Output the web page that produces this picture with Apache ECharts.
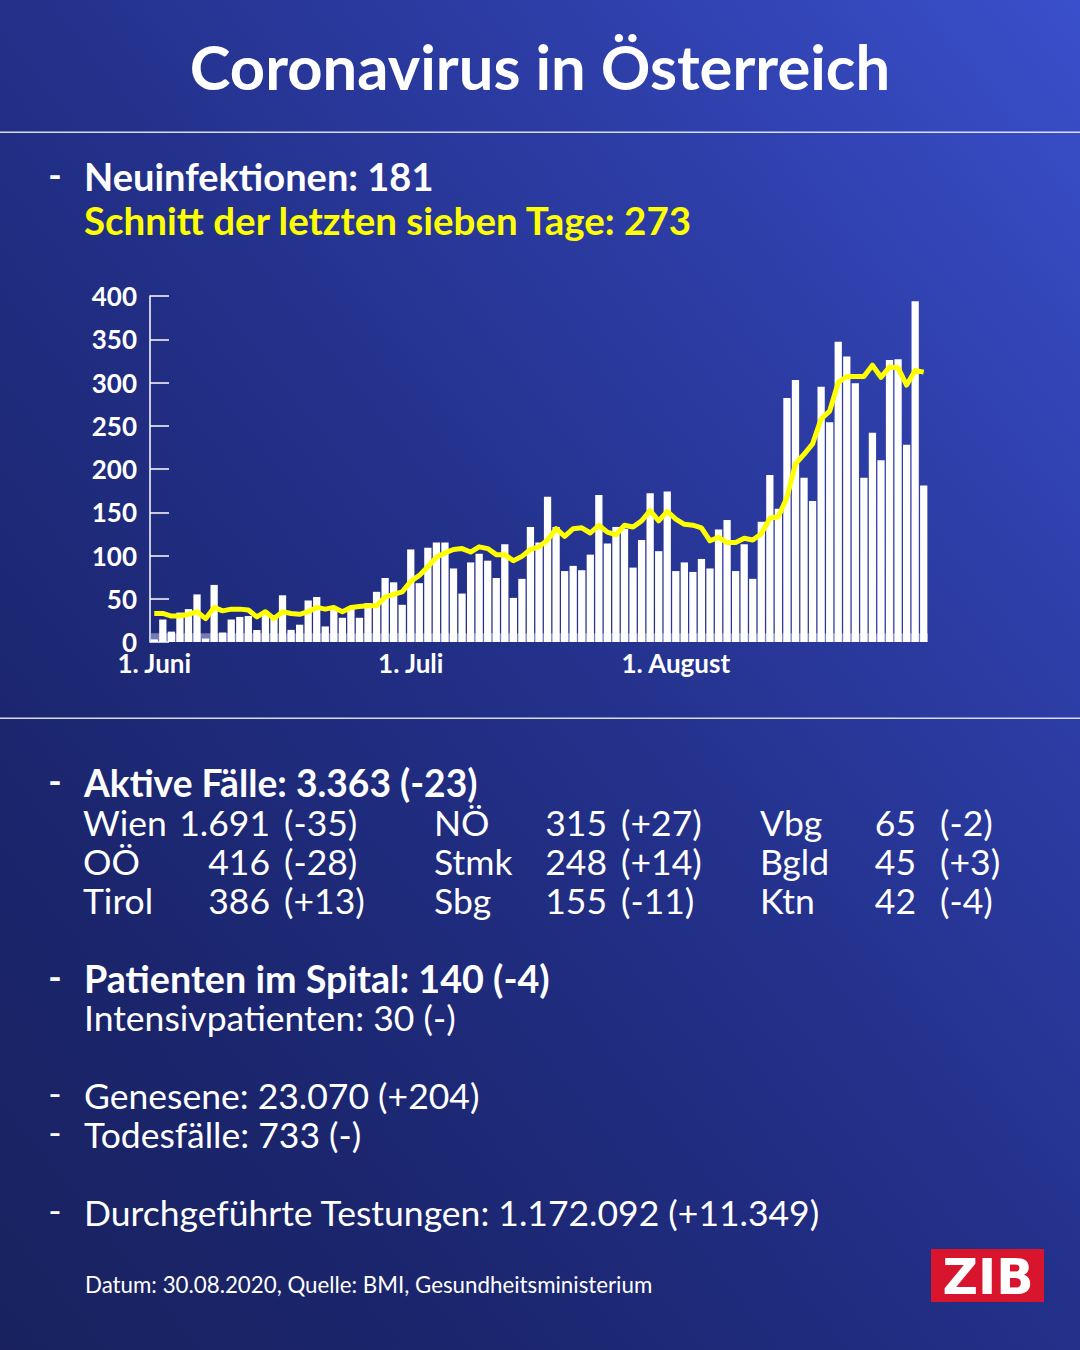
<!DOCTYPE html>
<html>
<head>
<meta charset="utf-8">
<script src="https://cdn.jsdelivr.net/npm/echarts@6/dist/echarts.min.js"></script>
<style>
html,body{margin:0;padding:0;}
body{width:1080px;height:1350px;overflow:hidden;
background:linear-gradient(to left bottom,#3a4fcb 0%,#2c3ca4 28%,#212e84 55%,#1b256c 80%,#19225f 100%);}
#chart{width:1080px;height:1350px;}
</style>
</head>
<body>
<div id="chart"></div>
<script>
// Daily new infections, 1 June – 30 August 2020
const newCases = [3,26,12,34,38,55,4,66,11,26,29,30,14,32,27,54,14,20,48,52,18,38,28,38,28,45,58,74,69,43,
  107,68,109,115,115,85,56,92,102,94,74,113,51,73,133,115,168,133,82,88,83,101,170,114,133,131,86,118,172,105,174,
  82,92,81,96,85,130,141,82,113,73,139,193,154,282,303,190,163,295,254,347,330,299,190,242,210,326,327,228,394,181];
// 7-day average (yellow line)
const sevenDayAvg = [33,33,30,30,32,35,27,40,36,38,38,37,29,35,27,35,33,32,35,40,38,40,35,40,41,42,42,52,55,58,
  70,77,87,98,103,107,108,104,110,108,101,101,94,99,107,110,118,131,122,131,132,126,135,127,124,135,133,140,152,140,151,
  142,136,135,132,117,121,115,115,120,118,125,143,145,167,206,217,229,258,267,300,307,307,307,320,306,318,317,297,314,312];
// category labels: days from 1 June to 30 August
const days = [];
(function(){const d=new Date(Date.UTC(2020,5,1));for(let i=0;i<newCases.length;i++){const c=new Date(d.getTime()+i*86400000);days.push(c.getUTCDate()+'.'+(c.getUTCMonth()+1)+'.');}})();
const monthTicks = {'1.6.':'1. Juni','1.7.':'1. Juli','1.8.':'1. August'};
const yTicks = [0,50,100,150,200,250,300,350,400];

const FONT = 'Lato';
function txt(text,x,y,size,weight,color,align){
  return {type:'text',x:x,y:y,z:100,style:{text:text,fill:color||'#fff',
    font:(weight||'normal')+' '+size+'px '+FONT,textAlign:align||'left',textVerticalAlign:'middle'}};
}
const W='#ffffff', Y='#ffff00';
const R=35.5; // regular size
const graphics = [
  txt('Coronavirus in Österreich',540,66,61.5,'bold',W,'center'),
  {type:'rect',shape:{x:0,y:131.5,width:1080,height:1.5},style:{fill:'rgba(235,238,250,0.9)'}},
  {type:'rect',shape:{x:0,y:717.5,width:1080,height:1.5},style:{fill:'rgba(235,238,250,0.9)'}},
  txt('-',55,174,36,'bold',W,'center'),
  txt('Neuinfektionen: 181',84,176,38,'bold',W),
  txt('Schnitt der letzten sieben Tage: 273',84,220,38.5,'bold',Y),
  txt('-',55,780,36,'bold',W,'center'),
  txt('Aktive Fälle: 3.363 (-23)',84,782,37.2,'bold',W),
  txt('Wien',83,822,R,'normal',W), txt('1.691',270,822,R,'normal',W,'right'), txt('(-35)',284,822,R,'normal',W),
  txt('OÖ',83,861,R,'normal',W), txt('416',270,861,R,'normal',W,'right'), txt('(-28)',284,861,R,'normal',W),
  txt('Tirol',83,900,R,'normal',W), txt('386',270,900,R,'normal',W,'right'), txt('(+13)',284,900,R,'normal',W),
  txt('NÖ',434,822,R,'normal',W), txt('315',607,822,R,'normal',W,'right'), txt('(+27)',621,822,R,'normal',W),
  txt('Stmk',434,861,R,'normal',W), txt('248',607,861,R,'normal',W,'right'), txt('(+14)',621,861,R,'normal',W),
  txt('Sbg',434,900,R,'normal',W), txt('155',607,900,R,'normal',W,'right'), txt('(-11)',621,900,R,'normal',W),
  txt('Vbg',760,822,R,'normal',W), txt('65',916,822,R,'normal',W,'right'), txt('(-2)',940,822,R,'normal',W),
  txt('Bgld',760,861,R,'normal',W), txt('45',916,861,R,'normal',W,'right'), txt('(+3)',940,861,R,'normal',W),
  txt('Ktn',760,900,R,'normal',W), txt('42',916,900,R,'normal',W,'right'), txt('(-4)',940,900,R,'normal',W),
  txt('-',55,976,36,'bold',W,'center'),
  txt('Patienten im Spital: 140 (-4)',84,978,37.7,'bold',W),
  txt('Intensivpatienten: 30 (-)',84,1017,R,'normal',W),
  txt('-',55,1093,36,'normal',W,'center'),
  txt('Genesene: 23.070 (+204)',84,1095,R,'normal',W),
  txt('-',55,1132,36,'normal',W,'center'),
  txt('Todesfälle: 733 (-)',84,1134,R,'normal',W),
  txt('-',55,1210,36,'normal',W,'center'),
  txt('Durchgeführte Testungen: 1.172.092 (+11.349)',84,1212,R,'normal',W),
  txt('Datum: 30.08.2020, Quelle: BMI, Gesundheitsministerium',85,1284,22.3,'normal',W),
  {type:'rect',shape:{x:931,y:1249,width:113,height:53},style:{fill:'#d8152c'},z:100},
  {type:'text',x:988,y:1277,z:101,style:{text:'ZIB',fill:'#fff',font:'bold 49px "DejaVu Sans"',textAlign:'center',textVerticalAlign:'middle'}}
];

const chart = echarts.init(document.getElementById('chart'),null,{renderer:'svg',width:1080,height:1350});
chart.setOption({
  backgroundColor:'transparent',
  animation:false,
  grid:{left:150,top:296,width:778,height:346,containLabel:false},
  xAxis:{type:'category',data:days,boundaryGap:true,
    axisLine:{show:false},axisTick:{show:false},
    axisLabel:{color:'#fff',fontFamily:FONT,fontSize:26,fontWeight:'bold',margin:8,
      interval:function(i,v){return monthTicks[v]!==undefined;},
      formatter:function(v){return monthTicks[v]||'';}}},
  yAxis:{type:'value',min:0,max:400,interval:50,
    axisLine:{show:true,lineStyle:{color:'#fff',width:1.5}},
    axisTick:{show:true,inside:true,length:19,lineStyle:{color:'#fff',width:1.5}},
    splitLine:{show:false},
    axisLabel:{color:'#fff',fontFamily:FONT,fontSize:26,fontWeight:'bold',margin:13,
      formatter:function(v){return yTicks.indexOf(v)>=0?String(v):'';}}},
  series:[
    {type:'bar',data:newCases,barCategoryGap:'15%',itemStyle:{color:'#ffffff'},z:2,
     markArea:{silent:true,itemStyle:{color:'rgba(190,190,235,0.55)'},data:[[{yAxis:0},{yAxis:10}]]}},
    {type:'line',data:sevenDayAvg,showSymbol:false,symbol:'none',z:5,
     lineStyle:{color:'#ffff00',width:5,join:'round'}}
  ],
  graphic:graphics
});
</script>
</body>
</html>
